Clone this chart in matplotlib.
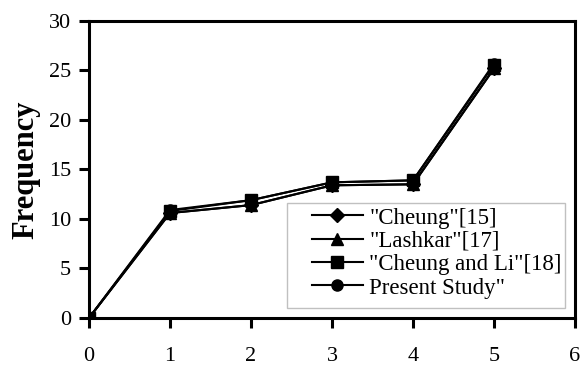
import matplotlib
matplotlib.use("Agg")
import matplotlib.pyplot as plt
from matplotlib.patches import Rectangle

plt.rcParams["font.family"] = ["Liberation Serif", "DejaVu Serif"]

x = [0, 1, 2, 3, 4, 5]
cheung = [0, 10.6, 11.4, 13.4, 13.5, 25.2]
lashkar = [0, 10.6, 11.4, 13.4, 13.5, 25.2]
cheung_li = [0, 10.8, 11.9, 13.7, 13.9, 25.6]
present = [0, 10.9, 11.9, 13.7, 13.9, 25.7]

labels = ['"Cheung"[15]', '"Lashkar"[17]', '"Cheung and Li"[18]', 'Present Study"']
markers = ["D", "^", "s", "o"]

fig = plt.figure(figsize=(5.82, 3.68), dpi=100)
ax = fig.add_axes([0.153, 0.136, 0.835, 0.807])

for ys, lab, m in zip([cheung, lashkar, cheung_li, present], labels, markers):
    ms = 7 if m == "D" else 8
    ax.plot(x, ys, color="black", lw=1.5, marker=m, ms=ms, label=lab)

ax.set_xlim(0, 6)
ax.set_ylim(0, 30)
ax.set_xticks(range(0, 7))
ax.set_yticks(range(0, 31, 5))
for s in ax.spines.values():
    s.set_linewidth(2.2)
ax.tick_params(direction="out", width=2.2, length=7, labelsize=16)
ax.tick_params(axis="x", pad=14)
ax.tick_params(axis="y", pad=6)
ax.set_ylabel("Frequency", fontsize=22, fontweight="bold", labelpad=6)

# legend box drawn separately so the left padding matches
box = Rectangle((0.407, 0.034), 0.572, 0.353, transform=ax.transAxes,
                facecolor="white", edgecolor="#c0c0c0", lw=1, zorder=4)
ax.add_patch(box)
leg = ax.legend(loc="upper left", bbox_to_anchor=(0.459, 0.372), fontsize=16.5,
                frameon=False, handlelength=2.2, borderpad=0, labelspacing=0.1,
                handletextpad=0.3, borderaxespad=0)
leg.set_zorder(5)

fig.savefig("out.png", dpi=100)
